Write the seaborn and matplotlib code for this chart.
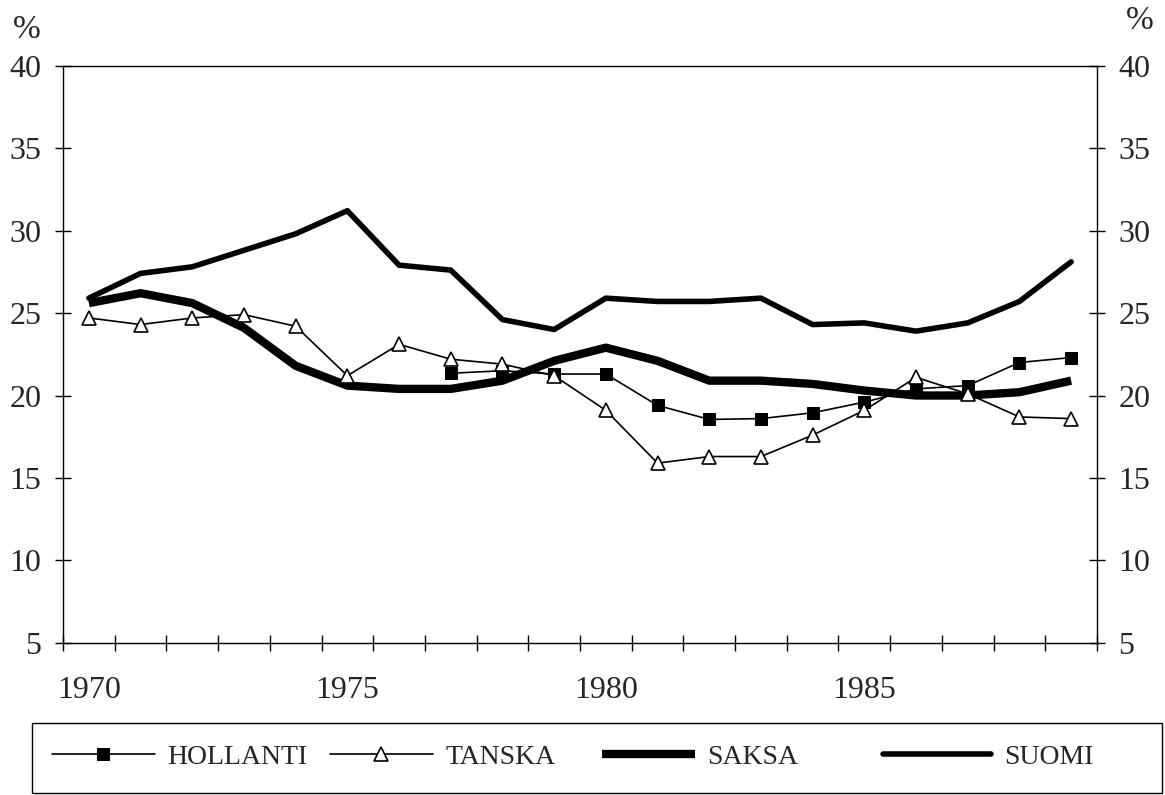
import numpy as np
import pandas as pd
import matplotlib
matplotlib.use("Agg")
import matplotlib.pyplot as plt
import matplotlib.patches as mpatches
import seaborn as sns

# values (%)
years = list(range(1970, 1990))
hollanti_years = list(range(1977, 1990))
hollanti = [21.35, 21.5, 21.3, 21.3, 19.4, 18.55, 18.6, 18.95, 19.6, 20.4, 20.6, 22.0, 22.3]
tanska = [24.7, 24.3, 24.7, 24.9, 24.2, 21.2, 23.1, 22.2, 21.9, 21.2,
          19.1, 15.9, 16.3, 16.3, 17.6, 19.1, 21.1, 20.1, 18.7, 18.6]
saksa = [25.6, 26.2, 25.6, 24.1, 21.8, 20.6, 20.4, 20.4, 20.9, 22.1,
         22.9, 22.1, 20.9, 20.9, 20.7, 20.3, 20.0, 20.0, 20.2, 20.9]
suomi = [25.9, 27.4, 27.8, 28.8, 29.8, 31.2, 27.9, 27.6, 24.6, 24.0,
         25.9, 25.7, 25.7, 25.9, 24.3, 24.4, 23.9, 24.4, 25.7, 28.1]

label_years = [1970, 1975, 1980, 1985]
y_ticks = list(range(5, 41, 5))

sns.set_style("white")
plt.rcParams["font.family"] = ["Liberation Serif", "DejaVu Serif"]

df = pd.DataFrame({"year": years, "tanska": tanska, "saksa": saksa, "suomi": suomi})
df_h = pd.DataFrame({"year": hollanti_years, "hollanti": hollanti})

fig = plt.figure(figsize=(11.65, 7.95), dpi=100)
ax = fig.add_axes([0.0541, 0.1912, 0.8875, 0.7264])

sns.lineplot(data=df, x="year", y="saksa", ax=ax, color="black",
             linewidth=6.0, solid_capstyle="butt", label="SAKSA", legend=False)
sns.lineplot(data=df, x="year", y="suomi", ax=ax, color="black",
             linewidth=4.0, solid_capstyle="round", label="SUOMI", legend=False)
sns.lineplot(data=df_h, x="year", y="hollanti", ax=ax, color="black", linewidth=1.2,
             marker="s", markersize=8.5, markerfacecolor="black", markeredgecolor="black",
             label="HOLLANTI", legend=False)
sns.lineplot(data=df, x="year", y="tanska", ax=ax, color="black", linewidth=1.2,
             marker="^", markersize=9.5, markerfacecolor="white", markeredgecolor="black",
             markeredgewidth=1.2, label="TANSKA", legend=False)

ax.set_xlim(1969.5, 1989.5)
ax.set_ylim(5, 40)
ax.set_xlabel("")
ax.set_ylabel("")

ax.set_xticks(label_years)
ax.set_xticklabels([str(y) for y in label_years])
ax.set_xticks(np.arange(1969.5, 1990, 1.0), minor=True)
ax.tick_params(axis="x", which="major", length=0, pad=24, labelsize=23)
ax.tick_params(axis="x", which="minor", direction="inout", length=12, width=1.0,
               bottom=True, color="black")

ax.set_yticks(y_ticks)
ax.tick_params(axis="y", which="major", direction="inout", length=11, width=1.0,
               left=True, right=True, labelleft=True, labelright=True,
               pad=10, labelsize=23, color="black")

for s in ax.spines.values():
    s.set_visible(True)
    s.set_color("black")
    s.set_linewidth(1.0)

fig.text(27 / 1165, 1 - 30 / 795, "%", fontsize=24, ha="center", va="center")
fig.text(1140 / 1165, 1 - 21 / 795, "%", fontsize=24, ha="center", va="center")

# legend box along the bottom
box = mpatches.Rectangle((32 / 1165, 2 / 795), 1130 / 1165, 70 / 795,
                         transform=fig.transFigure, fill=False, lw=1.0, ec="black")
fig.add_artist(box)

lines = {ln.get_label(): ln for ln in ax.get_lines()}
entries = [("HOLLANTI", 52, 3.7), ("TANSKA", 330, 3.7), ("SAKSA", 602, 3.35), ("SUOMI", 883, 3.9)]
for name, xpix, hl in entries:
    fig.legend([lines[name]], [name], loc="center left",
               bbox_to_anchor=(xpix / 1165, 1 - 757 / 795),
               frameon=False, fontsize=20, handlelength=hl, handletextpad=0.45,
               borderpad=0, borderaxespad=0, numpoints=1)

fig.savefig("out.png", dpi=100)
